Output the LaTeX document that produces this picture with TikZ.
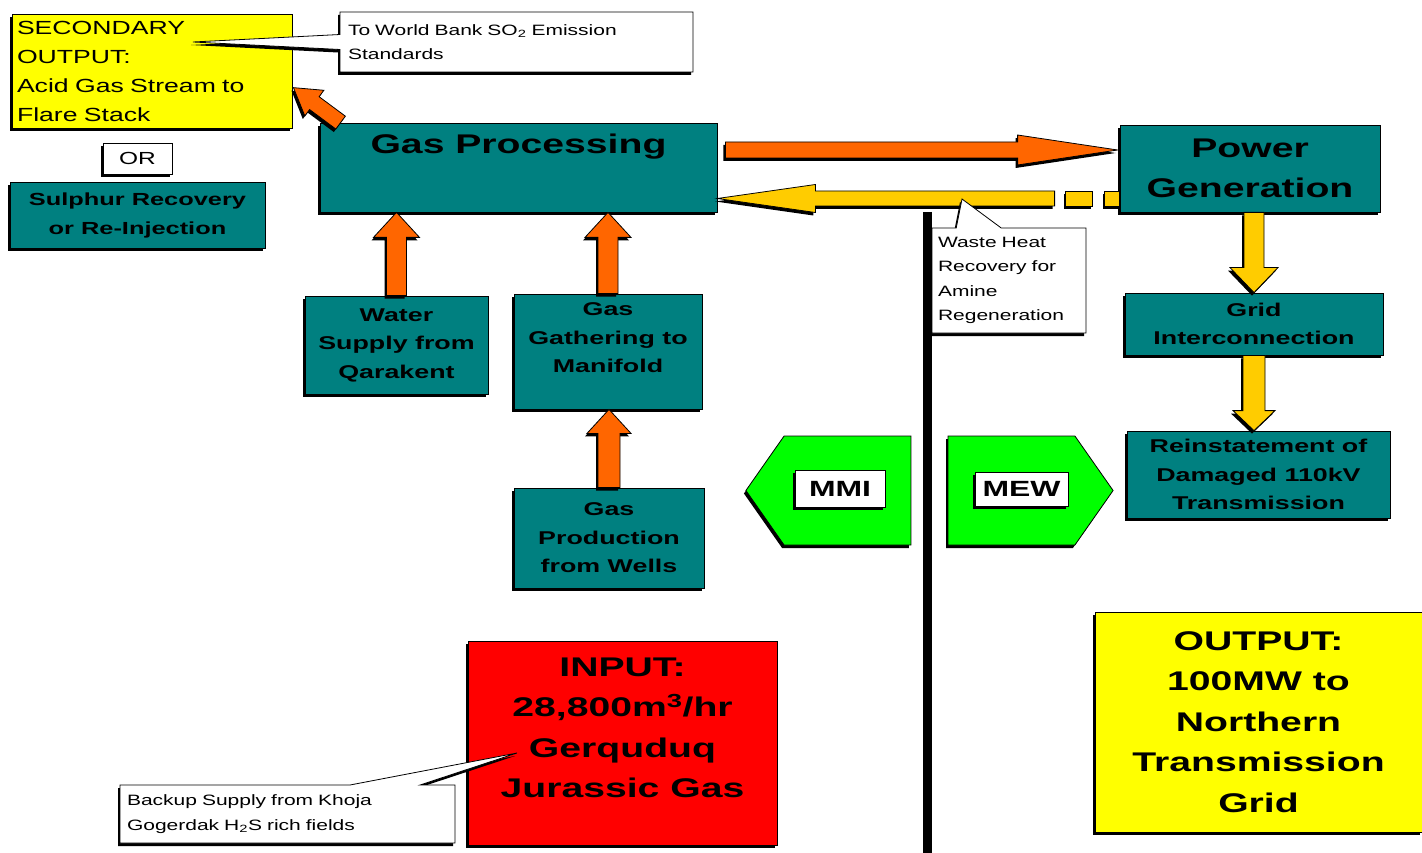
\documentclass[tikz,border=0pt]{standalone}
\usepackage{fontspec}
\setmainfont{Liberation Sans}
\newfontfamily\bw{Liberation Sans}[FakeStretch=1.45]
\newfontfamily\rw{Liberation Sans}[FakeStretch=1.4]
\usetikzlibrary{calc,shadows,shapes.callouts,shapes.symbols}
\definecolor{tealc}{HTML}{008080}
\definecolor{orangec}{HTML}{FF6600}
\definecolor{goldc}{HTML}{FFCC00}
\definecolor{yellowc}{HTML}{FFFF00}
\definecolor{redc}{HTML}{FF0000}
\definecolor{greenc}{HTML}{00FF00}
\tikzset{
  shad/.style={drop shadow={shadow xshift=-2pt,shadow yshift=-3pt,opacity=1,fill=black}},
  box/.style={rectangle,draw=black,line width=0.8pt,shad,inner sep=0pt,align=center},
  tbox/.style={box,fill=tealc,font=\bw\bfseries\fontsize{18.5}{28.5}\selectfont},
  bigtxt/.style={font=\bw\bfseries\fontsize{27}{40.5}\selectfont},
  reg/.style={font=\rw\fontsize{19}{29}\selectfont},
  callbox/.style={rectangle callout,draw=black,line width=0.8pt,fill=white,shad,
    inner sep=0pt,align=left,font=\rw\fontsize{15}{24.5}\selectfont},
  sigbox/.style={signal,signal from=nowhere,signal pointer angle=110,draw=black,
    line width=0.8pt,fill=greenc,shad,minimum width=165pt,minimum height=109pt,inner sep=0pt},
  tagbox/.style={box,fill=white,font=\bw\bfseries\fontsize{22}{26}\selectfont},
  dashseg/.style={draw=black,line width=0.8pt,fill=goldc,shad},
  vline/.style={line width=9pt,draw=black}
}
\newcommand\blockarr[6]{%
  \path[draw=black,line width=0.8pt,fill=#6,shad,line join=miter]
    let \p1=(#1), \p2=(#2), \n1={atan2(\y2-\y1,\x2-\x1)},
        \n2={veclen(\x2-\x1,\y2-\y1)} in
    {[shift={(\p1)},rotate=\n1]
     (0pt,-#3) -- ({\n2*1pt-#5},-#3) -- ({\n2*1pt-#5},-#4) -- ({\n2*1pt},0pt)
     -- ({\n2*1pt-#5},#4) -- ({\n2*1pt-#5},#3) -- (0pt,#3) -- cycle};
}
\begin{document}
\begin{tikzpicture}[x=1pt,y=-1pt]
\useasboundingbox (0,0) rectangle (1422,853);

% vertical divider
\coordinate (vt) at (927,212);
\coordinate (vb) at (927,853);
\draw[vline] (vt) -- (vb);

% boxes
\node[box,fill=yellowc,reg,minimum width=280pt,minimum height=114pt,text width=270pt,align=left]
  (sec) at (152,71) {SECONDARY\\OUTPUT:\\Acid Gas Stream to\\Flare Stack};
\node[box,fill=white,font=\rw\fontsize{17.5}{20}\selectfont,minimum width=69pt,minimum height=31pt]
  (orb) at (137.5,158.5) {OR};
\node[tbox,font=\bw\bfseries\fontsize{17.5}{29}\selectfont,minimum width=255pt,minimum height=66pt]
  (sul) at (137.5,215) {Sulphur Recovery\\or Re-Injection};
\node[box,fill=tealc,bigtxt,minimum width=397pt,minimum height=89pt,text height=20pt,text depth=47pt]
  (gp) at (518.5,167.5) {Gas Processing};
\node[box,fill=tealc,bigtxt,minimum width=260pt,minimum height=87pt]
  (pg) at (1250,168.5) {Power\\Generation};
\node[tbox,minimum width=183pt,minimum height=98pt]
  (wat) at (396.5,345) {Water\\Supply from\\Qarakent};
\node[tbox,minimum width=188pt,minimum height=115pt,text depth=27pt]
  (gath) at (608,351.5) {Gas\\Gathering to\\Manifold};
\node[tbox,minimum width=190pt,minimum height=100pt]
  (prod) at (609,538) {Gas\\Production\\from Wells};
\node[tbox,minimum width=258pt,minimum height=62pt]
  (grid) at (1254,324) {Grid\\Interconnection};
\node[tbox,minimum width=263pt,minimum height=87pt]
  (rein) at (1258.5,474.5) {Reinstatement of\\Damaged 110kV\\Transmission};
\node[sigbox,signal to=west] (mmi) at (847.5,490.5) {};
\node[tagbox,minimum width=90pt,minimum height=37pt] (mmil) at (840,488.5) {MMI};
\node[sigbox,signal to=east] (mew) at (1011.5,490.5) {};
\node[tagbox,minimum width=93pt,minimum height=34pt] (mewl) at (1021.5,489) {MEW};
\node[box,fill=redc,bigtxt,minimum width=309pt,minimum height=204pt,text depth=31pt]
  (inp) at (622.5,743) {INPUT:\\28,800m\textsuperscript{3}/hr\\Gerquduq\\Jurassic Gas};
\node[box,fill=yellowc,bigtxt,minimum width=327pt,minimum height=220pt]
  (out) at (1258.5,722) {OUTPUT:\\100MW to\\Northern\\Transmission\\Grid};

% block arrows
\blockarr{$(gp.north west)+(21,0)$}{$(sec.north east)+(1,74)$}{8pt}{16pt}{26pt}{orangec}
\blockarr{$(gp.east)+(8,-17.5)$}{$(pg.west)+(-2,-18.5)$}{8pt}{15pt}{100pt}{orangec}
\blockarr{$(pg.west)+(-65,30)$}{$(gp.east)+(0,31)$}{7.5pt}{14pt}{98pt}{goldc}
\path[dashseg] ($(pg.west)+(-54,22.5)$) rectangle ($(pg.west)+(-27,37.5)$);
\path[dashseg] ($(pg.west)+(-15,22.5)$) rectangle ($(pg.west)+(0,37.5)$);
\blockarr{wat.north}{wat.north |- gp.south}{10pt}{23pt}{25pt}{orangec}
\blockarr{gath.north}{gath.north |- gp.south}{10pt}{23pt}{25pt}{orangec}
\blockarr{prod.north}{prod.north |- gath.south}{11pt}{22pt}{24pt}{orangec}
\blockarr{grid.north |- pg.south}{grid.north}{10pt}{24pt}{25pt}{goldc}
\blockarr{grid.south}{grid.south |- rein.north}{11pt}{21pt}{20pt}{goldc}

% callouts
\coordinate (wbtip) at (193,42);
\coordinate (wtip) at (962,199);
\coordinate (btip) at (517,753);
\node[callbox,minimum width=353pt,minimum height=60pt,text width=337pt,
  callout absolute pointer=(wbtip),callout pointer width=15pt]
  (wb) at (516.5,42) {To World Bank SO\textsubscript{2} Emission\\Standards};
\node[callbox,minimum width=154pt,minimum height=105pt,text width=142pt,
  callout absolute pointer=(wtip),callout pointer width=45pt]
  (wst) at (1009,280.5) {Waste Heat\\Recovery for\\Amine\\Regeneration};
\node[callbox,minimum width=335pt,minimum height=58pt,text width=321pt,
  callout absolute pointer=(btip),callout pointer width=70pt]
  (bak) at (287.5,814) {Backup Supply from Khoja\\Gogerdak H\textsubscript{2}S rich fields};
\end{tikzpicture}
\end{document}
